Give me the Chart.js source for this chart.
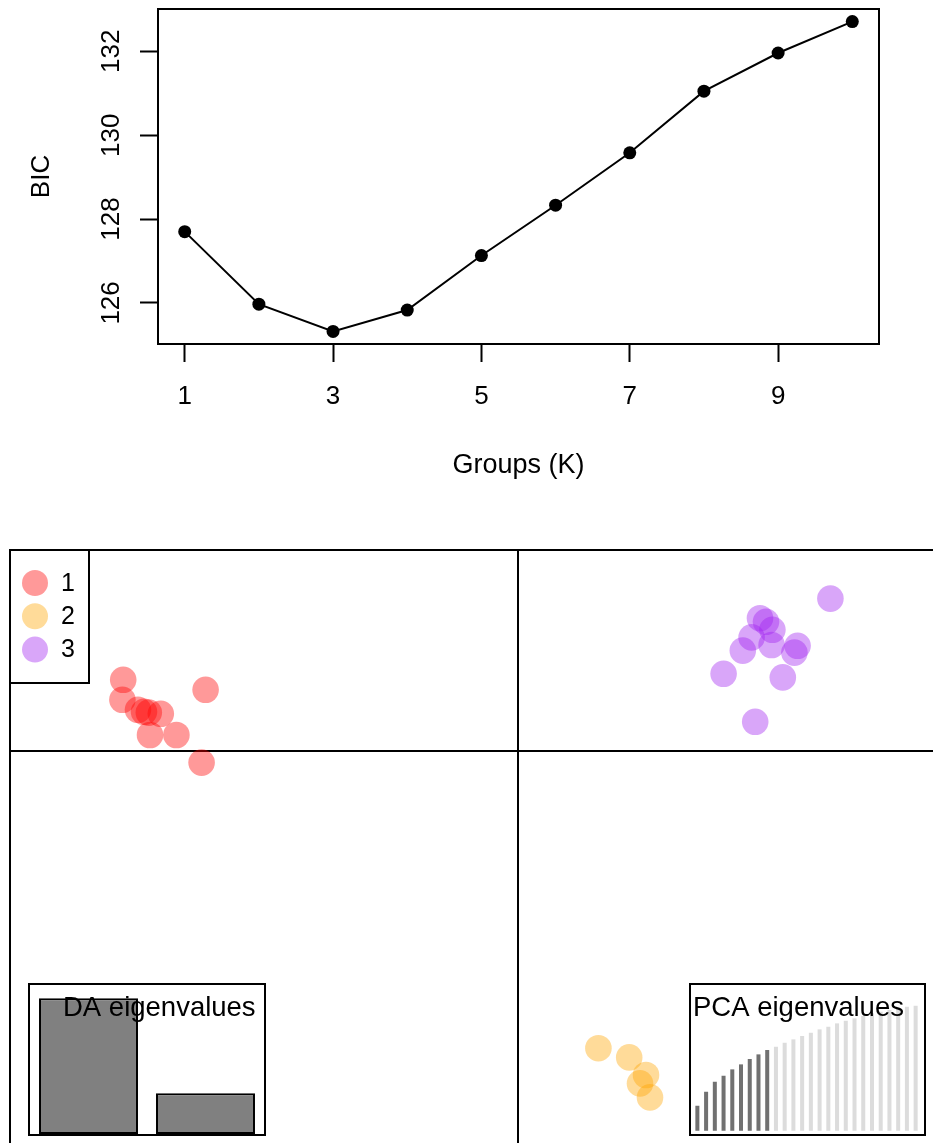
<!DOCTYPE html>
<html>
<head>
<meta charset="utf-8">
<script src="https://cdn.jsdelivr.net/npm/chart.js@4.4.1/dist/chart.umd.min.js"></script>
<style>
  html, body { margin: 0; padding: 0; background: #fff; }
  body { width: 933px; height: 1143px; overflow: hidden; position: relative; }
  .pane { position: absolute; }
  #bicPane { left: 0; top: 0; }
  #scatPane { left: 0; top: 520px; }
  .inset { position: absolute; box-sizing: border-box; border: 2px solid #000; background: #fff; }
  #daPane { left: 28px; top: 983px; width: 238px; height: 153px; }
  #pcaPane { left: 689px; top: 983px; width: 237px; height: 153px; }
  canvas { display: block; }
</style>
</head>
<body>
<div class="pane" id="bicPane"><canvas id="bic" width="933" height="500"></canvas></div>
<div class="pane" id="scatPane"><canvas id="scat" width="1100" height="700"></canvas></div>
<div class="inset" id="daPane"><canvas id="da" width="234" height="149"></canvas></div>
<div class="inset" id="pcaPane"><canvas id="pca" width="233" height="149"></canvas></div>

<script>
// ---- BIC versus number of clusters ----
const kValues   = [1, 2, 3, 4, 5, 6, 7, 8, 9, 10];
const bicValues = [127.70, 125.97, 125.32, 125.83, 127.13, 128.33, 129.58, 131.05, 131.96, 132.71];
const kTicks    = [1, 3, 5, 7, 9];
const bicTicks  = [126, 128, 130, 132];

// ---- discriminant scores (LD1, LD2) per group ----
const groupLabels = ['1', '2', '3'];
const grp1LD1 = [-9.86, -9.88, -9.49, -9.34, -9.22, -8.92, -9.19, -8.53, -7.80, -7.90];
const grp1LD2 = [ 1.78,  1.28,  1.03,  0.98,  0.96,  0.93,  0.40,  0.40,  1.53, -0.29];
const grp2LD1 = [ 2.02,  2.79,  3.21,  3.06,  3.31];
const grp2LD2 = [-7.43, -7.66, -8.10, -8.31, -8.66];
const grp3LD1 = [ 7.82,  6.06,  6.21,  6.37,  5.85,  5.63,  6.35,  7.00,  6.92,  5.15,  6.63,  5.94];
const grp3LD2 = [ 3.81,  3.32,  3.23,  3.03,  2.84,  2.51,  2.65,  2.63,  2.46,  1.93,  1.84,  0.73];

// ---- eigenvalue insets ----
const daEigen   = [1.00, 0.30];
const pcaCumVar = [20.0, 31.2, 39.2, 44.0, 49.1, 53.1, 57.4, 61.1, 64.6, 67.2, 70.4, 73.1, 75.8,
                   78.4, 81.1, 83.2, 85.9, 88.0, 89.9, 91.8, 93.9, 95.2, 96.6, 97.9, 99.2, 100.0];
const pcaRetained = 9;

const FONT = "'Liberation Sans', Arial, Helvetica, sans-serif";
Chart.defaults.font.family = FONT;
Chart.defaults.color = '#000';
Chart.defaults.animation = false;

const framePlugin = {
  id: 'frame',
  afterDraw(chart) {
    const a = chart.chartArea, ctx = chart.ctx;
    ctx.save();
    ctx.strokeStyle = '#000';
    ctx.lineWidth = 2;
    ctx.strokeRect(a.left, a.top, a.right - a.left, a.bottom - a.top);
    ctx.restore();
  }
};

// y tick labels written parallel to the axis
const yLabelPlugin = {
  id: 'yLabels',
  afterDraw(chart) {
    const ctx = chart.ctx, ys = chart.scales.y;
    ctx.save();
    ctx.fillStyle = '#000';
    ctx.font = '26px ' + FONT;
    ctx.textAlign = 'center';
    ctx.textBaseline = 'middle';
    bicTicks.forEach(v => {
      ctx.save();
      ctx.translate(112, ys.getPixelForValue(v));
      ctx.rotate(-Math.PI / 2);
      ctx.fillText(String(v), 0, 0);
      ctx.restore();
    });
    ctx.restore();
  }
};

new Chart(document.getElementById('bic'), {
  type: 'line',
  data: {
    datasets: [{
      data: kValues.map((k, i) => ({ x: k, y: bicValues[i] })),
      borderColor: '#000',
      borderWidth: 2,
      pointRadius: 6.5,
      pointBackgroundColor: '#000',
      pointBorderWidth: 0,
      tension: 0,
      clip: false
    }]
  },
  options: {
    responsive: false,
    layout: { autoPadding: false, padding: { left: 0, top: 9, right: 54, bottom: 0 } },
    plugins: { legend: { display: false }, tooltip: { enabled: false } },
    scales: {
      x: {
        type: 'linear', min: 0.64, max: 10.36,
        afterBuildTicks: s => { s.ticks = kTicks.map(v => ({ value: v })); },
        afterFit: s => { s.height = 156; },
        ticks: { font: { size: 26 }, color: '#000', padding: 19, maxRotation: 0, autoSkip: false,
                 callback: v => String(v) },
        grid: { drawOnChartArea: false, drawTicks: true, tickLength: 18, tickColor: '#000', tickWidth: 2 },
        border: { display: false },
        title: { display: true, text: 'Groups (K)', font: { size: 27 }, color: '#000',
                 padding: { top: 0, bottom: 18 } }
      },
      y: {
        type: 'linear', min: 125.02, max: 133.01,
        afterBuildTicks: s => { s.ticks = bicTicks.map(v => ({ value: v })); },
        afterFit: s => { s.width = 158; },
        ticks: { display: false },
        grid: { drawOnChartArea: false, drawTicks: true, tickLength: 18, tickColor: '#000', tickWidth: 2 },
        border: { display: false },
        title: { display: true, text: 'BIC', font: { size: 26 }, color: '#000',
                 padding: { top: 26, bottom: 0 } }
      }
    }
  },
  plugins: [framePlugin, yLabelPlugin]
});

// ---- scatter of discriminant functions ----
const groupColors = ['rgba(255,0,0,0.40)', 'rgba(255,165,0,0.40)', 'rgba(160,32,240,0.40)'];
const toPts = (xs, ys) => xs.map((x, i) => ({ x: x, y: ys[i] }));

const legendBoxPlugin = {
  id: 'legendBox',
  afterDraw(chart) {
    const ctx = chart.ctx, a = chart.chartArea;
    const x0 = a.left, y0 = a.top, w = 79, h = 133;
    ctx.save();
    ctx.fillStyle = '#fff';
    ctx.fillRect(x0, y0, w, h);
    ctx.strokeStyle = '#000';
    ctx.lineWidth = 2;
    ctx.strokeRect(x0, y0, w, h);
    ctx.font = '25px ' + FONT;
    ctx.textAlign = 'left';
    ctx.textBaseline = 'middle';
    chart.data.datasets.forEach((ds, i) => {
      const cy = y0 + 33 + i * 33.3;
      ctx.beginPath();
      ctx.arc(x0 + 25, cy, 13, 0, Math.PI * 2);
      ctx.fillStyle = ds.backgroundColor;
      ctx.fill();
      ctx.fillStyle = '#000';
      ctx.fillText(ds.label, x0 + 51, cy + 1);
    });
    ctx.restore();
  }
};

const zeroGrid = {
  drawTicks: false,
  lineWidth: 2,
  color: c => (c.tick && c.tick.value === 0 ? '#000' : 'rgba(0,0,0,0)')
};

new Chart(document.getElementById('scat'), {
  type: 'scatter',
  data: {
    datasets: [
      { label: groupLabels[0], data: toPts(grp1LD1, grp1LD2), backgroundColor: groupColors[0] },
      { label: groupLabels[1], data: toPts(grp2LD1, grp2LD2), backgroundColor: groupColors[1] },
      { label: groupLabels[2], data: toPts(grp3LD1, grp3LD2), backgroundColor: groupColors[2] }
    ]
  },
  options: {
    responsive: false,
    layout: { autoPadding: false, padding: { left: 10, top: 30, right: 70, bottom: 30 } },
    elements: { point: { radius: 13.3, borderWidth: 0 } },
    plugins: { legend: { display: false }, tooltip: { enabled: false } },
    scales: {
      x: {
        type: 'linear', min: -12.69, max: 12.81,
        afterBuildTicks: s => { s.ticks = [{ value: 0 }]; },
        afterFit: s => { s.height = 0; },
        ticks: { display: false },
        grid: zeroGrid,
        border: { display: false }
      },
      y: {
        type: 'linear', min: -10.975, max: 5.025,
        afterBuildTicks: s => { s.ticks = [{ value: 0 }]; },
        afterFit: s => { s.width = 0; },
        ticks: { display: false },
        grid: zeroGrid,
        border: { display: false }
      }
    }
  },
  plugins: [framePlugin, legendBoxPlugin]
});

// ---- inset bar plots ----
function insetTitle(text, x, y) {
  return {
    id: 'insetTitle',
    afterDraw(chart) {
      const ctx = chart.ctx;
      ctx.save();
      ctx.fillStyle = '#000';
      ctx.font = '27.5px ' + FONT;
      ctx.textAlign = 'left';
      ctx.textBaseline = 'middle';
      ctx.fillText(text, x, y);
      ctx.restore();
    }
  };
}

const hiddenAxes = (ymin, ymax) => ({
  x: { display: false },
  y: { display: false, min: ymin, max: ymax }
});

new Chart(document.getElementById('da'), {
  type: 'bar',
  data: {
    labels: daEigen.map((_, i) => String(i + 1)),
    datasets: [{
      data: daEigen,
      backgroundColor: '#808080',
      borderColor: '#000',
      borderWidth: 2,
      borderSkipped: false,
      categoryPercentage: 1,
      barPercentage: 0.846
    }]
  },
  options: {
    responsive: false,
    layout: { autoPadding: false, padding: { left: 0, right: 0, top: 0, bottom: 0 } },
    plugins: { legend: { display: false }, tooltip: { enabled: false } },
    scales: hiddenAxes(0, 1.098)
  },
  plugins: [insetTitle('DA eigenvalues', 33, 23)]
});

new Chart(document.getElementById('pca'), {
  type: 'bar',
  data: {
    labels: pcaCumVar.map((_, i) => String(i + 1)),
    datasets: [{
      data: pcaCumVar,
      backgroundColor: pcaCumVar.map((_, i) => (i < pcaRetained ? '#717171' : '#dcdcdc')),
      borderWidth: 0,
      categoryPercentage: 1,
      barPercentage: 0.46
    }]
  },
  options: {
    responsive: false,
    layout: { autoPadding: false, padding: { left: 2, right: 4, top: 0, bottom: 0 } },
    plugins: { legend: { display: false }, tooltip: { enabled: false } },
    scales: hiddenAxes(-2.6, 116.6)
  },
  plugins: [insetTitle('PCA eigenvalues', 2, 23)]
});
</script>
</body>
</html>
